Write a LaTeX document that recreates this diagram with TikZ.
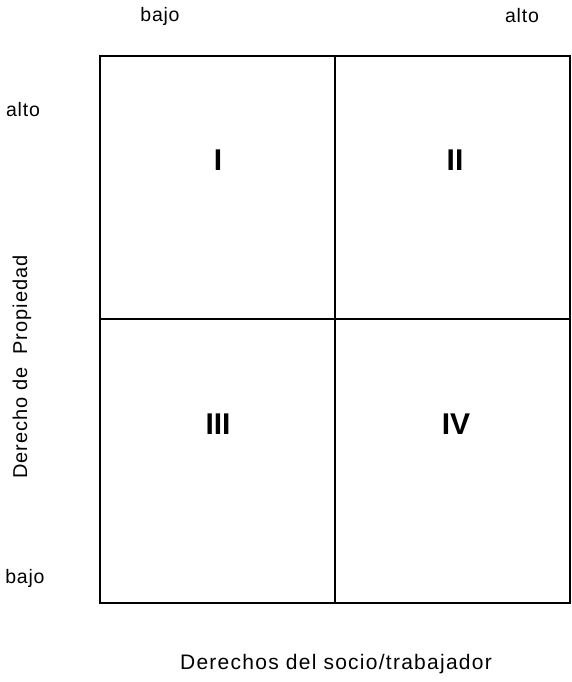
\documentclass[tikz,border=0pt]{standalone}
\usepackage{fontspec}
\setmainfont{Liberation Sans}
\begin{document}
\begin{tikzpicture}[x=1pt,y=-1pt,
  lbl/.style={font=\fontsize{19.5}{22}\selectfont\addfontfeatures{LetterSpace=4}, inner sep=0pt},
  biglbl/.style={font=\fontsize{21}{24}\selectfont\addfontfeatures{LetterSpace=6}, inner sep=0pt},
  num/.style={font=\fontsize{30}{34}\selectfont\bfseries, inner sep=0pt},
  gridline/.style={line width=1.7pt, black}]
\useasboundingbox (0,0) rectangle (572,682);
\fill[white] (0,0) rectangle (572,682);
\coordinate (tl) at (100,56);
\coordinate (br) at (570,603);
\coordinate (mt) at (335,56);
\coordinate (mb) at (335,603);
\coordinate (ml) at (100,319);
\coordinate (mr) at (570,319);
\draw[gridline] (tl) rectangle (br);
\draw[gridline] (mt) -- (mb);
\draw[gridline] (ml) -- (mr);
\node[lbl] (xlo) at (160,16) {bajo};
\node[lbl] (xhi) at (522,16) {alto};
\node[lbl] (yhi) at (23,110) {alto};
\node[lbl] (ylo) at (25,578) {bajo};
\node[lbl, font=\fontsize{20}{22}\selectfont\addfontfeatures{LetterSpace=5}, rotate=90] (ylab) at (22,367) {Derecho de \ Propiedad};
\node[biglbl] (xlab) at (336,664) {Derechos del socio/trabajador};
\node[num] (q1) at (218,160) {I};
\node[num] (q2) at (455,160) {II};
\node[num] (q3) at (218,424) {III};
\node[num] (q4) at (456,424) {IV};
\end{tikzpicture}
\end{document}
